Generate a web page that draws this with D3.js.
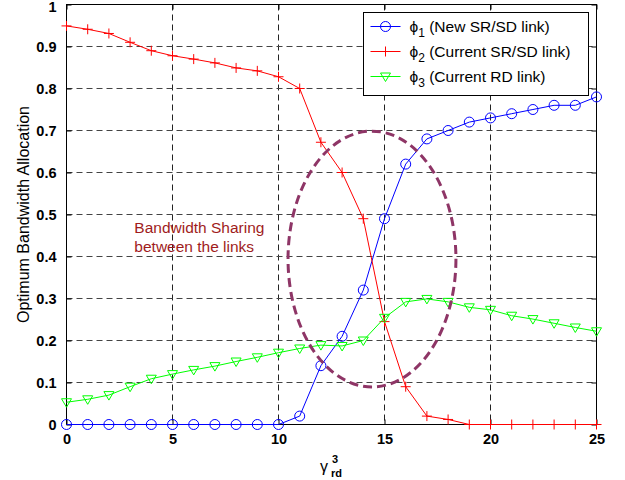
<!DOCTYPE html>
<html>
<head>
<meta charset="utf-8">
<script src="https://cdn.jsdelivr.net/npm/d3@7"></script>
<style>
  body { margin: 0; background: #fff; }
  svg { display: block; font-family: Arial, "Liberation Sans", sans-serif; }
  .tick text { font-weight: bold; }
</style>
</head>
<body>
<div id="chart"></div>
<script>
// data
var gammaRd = [0,1,2,3,4,5,6,7,8,9,10,11,12,13,14,15,16,17,18,19,20,21,22,23,24,25];
var phi1 = [0,0,0,0,0,0,0,0,0,0,0,0.02,0.14,0.21,0.32,0.49,0.62,0.68,0.70,0.72,0.73,0.74,0.75,0.76,0.76,0.78];
var phi2 = [0.949,0.941,0.931,0.91,0.89,0.878,0.87,0.861,0.849,0.842,0.828,0.80,0.672,0.60,0.49,0.245,0.09,0.02,0.012,0,0,0,0,0,0,0];
var phi3 = [0.053,0.06,0.07,0.09,0.109,0.12,0.13,0.139,0.15,0.16,0.171,0.181,0.189,0.187,0.20,0.254,0.292,0.299,0.292,0.279,0.273,0.259,0.251,0.241,0.231,0.222];
var xTicks = [0,5,10,15,20,25];
var yTicks = [0,0.1,0.2,0.3,0.4,0.5,0.6,0.7,0.8,0.9,1];
var seriesNames = ["(New SR/SD link)", "(Current SR/SD link)", "(Current RD link)"];

// margin convention
var W = 625, H = 480;
var margin = {top: 4.5, right: 28.5, bottom: 55.5, left: 66.5},
    width = W - margin.left - margin.right,
    height = H - margin.top - margin.bottom;

var x = d3.scaleLinear().domain([0, 25]).range([0, width]);
var y = d3.scaleLinear().domain([0, 1]).range([height, 0]);

var svg = d3.select("#chart").append("svg")
    .attr("width", W).attr("height", H);
var g = svg.append("g")
    .attr("transform", "translate(" + margin.left + "," + margin.top + ")");

// dashed grid
g.append("g").selectAll("line").data(xTicks.slice(1, -1)).enter().append("line")
    .attr("x1", d => x(d)).attr("x2", d => x(d))
    .attr("y1", 0).attr("y2", height)
    .attr("stroke", "#222").attr("stroke-dasharray", "6,4");
g.append("g").selectAll("line").data(yTicks.slice(1, -1)).enter().append("line")
    .attr("x1", 0).attr("x2", width)
    .attr("y1", d => Math.round(y(d))).attr("y2", d => Math.round(y(d)))
    .attr("stroke", "#444").attr("stroke-dasharray", "6,4");

// axes, ticks inward on all four sides
var fmtY = d => d === 0 ? "0" : d === 1 ? "1" : d3.format(".1f")(d);
function styleAxis(sel) {
  sel.select(".domain").remove();
  sel.selectAll(".tick line").attr("stroke", "#000");
  sel.selectAll(".tick text").attr("fill", "#000").style("font-size", "14.5px");
}
g.append("g").attr("transform", "translate(0," + height + ")")
    .call(d3.axisBottom(x).tickValues(xTicks).tickSize(-5).tickPadding(9))
    .call(styleAxis);
g.append("g")
    .call(d3.axisTop(x).tickValues(xTicks).tickSize(-5).tickFormat(""))
    .call(styleAxis);
var yAxis = g.append("g")
    .call(d3.axisLeft(y).tickValues(yTicks).tickSize(-5).tickPadding(10).tickFormat(fmtY))
    .call(styleAxis);
// the top label sits at the very edge of the page
yAxis.selectAll(".tick text").filter(d => d === 1).attr("dy", "0.5em");
g.append("g").attr("transform", "translate(" + width + ",0)")
    .call(d3.axisRight(y).tickValues(yTicks).tickSize(-5).tickFormat(""))
    .call(styleAxis);

g.append("rect").attr("width", width).attr("height", height)
    .attr("fill", "none").attr("stroke", "#000");

// series
var series = [
  {vals: phi1, color: "#0000ff", marker: "circle"},
  {vals: phi2, color: "#ff0000", marker: "plus"},
  {vals: phi3, color: "#00ff00", marker: "tri"}
];
var line = d3.line().x(d => x(d[0])).y(d => y(d[1]));

function drawMarker(sel, type, color) {
  var m;
  if (type === "circle") {
    m = sel.append("circle").attr("r", 5);
  } else if (type === "plus") {
    m = sel.append("path").attr("d", "M-5,0H5M0,-5V5");
  } else {
    m = sel.append("path").attr("d", "M-5,-3.5L5,-3.5L0,5Z");
  }
  m.style("fill", "none").style("stroke", color).style("stroke-width", 1);
}

series.forEach(function(s) {
  var pts = gammaRd.map((v, i) => [v, s.vals[i]]);
  g.append("path").datum(pts).attr("d", line)
      .attr("fill", "none").attr("stroke", s.color).attr("stroke-width", 1);
  g.append("g").selectAll("g").data(pts).enter().append("g")
      .attr("transform", d => "translate(" + x(d[0]) + "," + y(d[1]) + ")")
      .each(function() { drawMarker(d3.select(this), s.marker, s.color); });
});

// annotation ellipse and text
var ell = {cx: 14.41, cy: 0.394, rx: 3.96, ry: 0.3045};
g.append("ellipse")
    .attr("cx", x(ell.cx)).attr("cy", y(ell.cy))
    .attr("rx", x(ell.rx) - x(0)).attr("ry", y(0) - y(ell.ry))
    .attr("fill", "none").attr("stroke", "#8e3566")
    .attr("stroke-width", 3).attr("stroke-dasharray", "9,5");

var note = g.append("text").attr("fill", "#a01c1c").style("font-size", "15.5px")
    .attr("x", x(3.2)).attr("y", y(0.455));
note.append("tspan").text("Bandwidth Sharing");
note.append("tspan").attr("x", x(3.2)).attr("dy", 18.5).text("between the links");

// legend
var lg = svg.append("g").attr("transform", "translate(363.5,12.5)");
lg.append("rect").attr("width", 225).attr("height", 83)
    .attr("fill", "#fff").attr("stroke", "#000");
series.forEach(function(s, i) {
  var row = lg.append("g").attr("transform", "translate(0," + (14 + i * 25) + ")");
  row.append("line").attr("x1", 7).attr("x2", 37).style("stroke", s.color);
  var m = row.append("g").attr("transform", "translate(22,0)");
  drawMarker(m, s.marker, s.color);
  var t = row.append("text").attr("x", 46).attr("y", 5).style("font-size", "15.5px").attr("fill", "#000");
  t.append("tspan").text("\u03D5");
  t.append("tspan").attr("dy", 5).style("font-size", "12px").text(i + 1);
  t.append("tspan").attr("dy", -5).text(" " + seriesNames[i]);
});

// axis titles
svg.append("text")
    .attr("transform", "translate(29," + (margin.top + height / 2) + ") rotate(-90)")
    .attr("text-anchor", "middle").style("font-size", "16px").attr("fill", "#000")
    .text("Optimum Bandwidth Allocation");
var xl = svg.append("text").attr("x", 320).attr("y", 472).attr("fill", "#000").style("font-size", "16px");
xl.append("tspan").text("\u03B3");
svg.append("text").attr("x", 332).attr("y", 463).style("font-size", "11px").attr("font-weight", "bold").text("3");
svg.append("text").attr("x", 331).attr("y", 477).style("font-size", "11px").attr("font-weight", "bold").text("rd");
</script>
</body>
</html>
